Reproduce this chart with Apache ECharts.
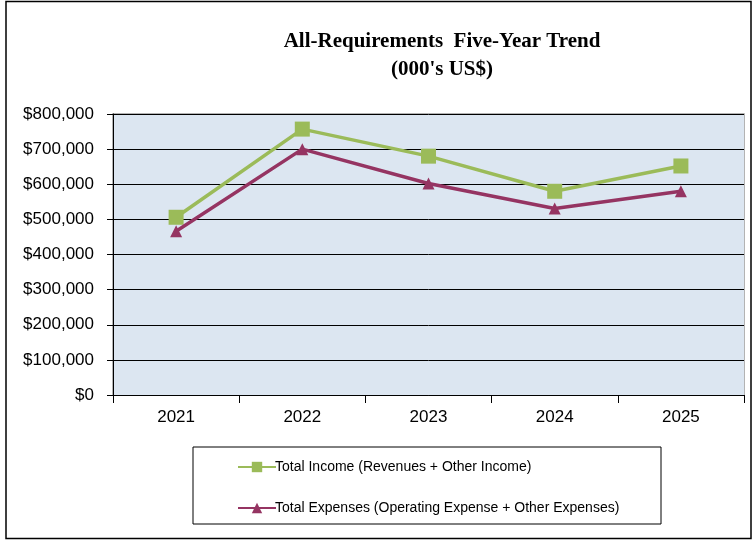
<!DOCTYPE html>
<html>
<head>
<meta charset="utf-8">
<script src="https://cdn.jsdelivr.net/npm/echarts@6/dist/echarts.min.js"></script>
<style>
  html, body { margin: 0; padding: 0; background: #ffffff; }
  #chart { width: 753px; height: 541px; }
</style>
</head>
<body>
<div id="chart"></div>
<script>
// Fiscal years on the category axis
const years = ['2021', '2022', '2023', '2024', '2025'];

// Thousands of US dollars
const totalIncome = [506000, 757000, 680000, 580000, 652000];
const totalExpenses = [466000, 700000, 602000, 531000, 580000];

const incomeName = 'Total Income (Revenues + Other Income)';
const expensesName = 'Total Expenses (Operating Expense + Other Expenses)';

const chart = echarts.init(document.getElementById('chart'), null, { renderer: 'canvas' });

const money = v => '$' + v.toLocaleString('en-US');

// Plot area box in pixels
const gridLeft = 113, gridRight = 9, gridTop = 114, gridBottom = 146;

chart.setOption({
  animation: false,
  backgroundColor: '#ffffff',
  textStyle: { fontFamily: 'Liberation Sans, Arial, sans-serif' },
  graphic: [
    {
      type: 'rect',
      shape: { x: 6, y: 1.5, width: 745, height: 537 },
      style: { fill: 'none', stroke: '#000000', lineWidth: 1.5 },
      silent: true
    },
    {
      type: 'rect',
      shape: { x: 193, y: 447, width: 468, height: 77 },
      style: { fill: '#ffffff', stroke: '#000000', lineWidth: 1 },
      silent: true,
      z: -1
    },
    {
      type: 'rect',
      shape: {
        x: gridLeft, y: gridTop,
        width: 753 - gridRight - gridLeft,
        height: 541 - gridBottom - gridTop
      },
      style: { fill: 'none', stroke: '#9a9a9a', lineWidth: 1.5 },
      silent: true,
      z: 0
    }
  ],
  title: {
    text: 'All-Requirements  Five-Year Trend\n(000\'s US$)',
    left: 437,
    textAlign: 'center',
    top: 23,
    textStyle: {
      fontFamily: 'Liberation Serif, Times New Roman, serif',
      fontWeight: 'bold',
      fontSize: 21,
      lineHeight: 28,
      color: '#000000'
    }
  },
  legend: {
    orient: 'vertical',
    left: 232,
    top: 455,
    itemGap: 27,
    itemWidth: 38,
    itemHeight: 13,
    textStyle: { fontSize: 14, color: '#000000', padding: [0, 0, 0, -6] },
    data: [incomeName, expensesName]
  },
  grid: { left: gridLeft, right: gridRight, top: gridTop, bottom: gridBottom, containLabel: false },
  xAxis: {
    type: 'category',
    data: years,
    boundaryGap: true,
    axisLine: { lineStyle: { color: '#000000', width: 1 } },
    axisTick: { show: true, length: 8, lineStyle: { color: '#000000' } },
    axisLabel: { fontSize: 17, color: '#000000', margin: 14 },
    splitLine: { show: false }
  },
  yAxis: {
    type: 'value',
    min: 0,
    max: 800000,
    interval: 100000,
    axisLine: { show: true, lineStyle: { color: '#000000', width: 1 } },
    axisTick: { show: true, length: 6, lineStyle: { color: '#000000' } },
    axisLabel: { fontSize: 17, color: '#000000', margin: 19, formatter: money },
    splitLine: { show: true, lineStyle: { color: '#000000', width: 1 } },
    splitArea: { show: true, areaStyle: { color: ['#dce6f1', '#dce6f1'] } }
  },
  series: [
    {
      name: incomeName,
      type: 'line',
      data: totalIncome,
      symbol: 'rect',
      symbolSize: 15,
      lineStyle: { color: '#9bbb59', width: 3.5 },
      itemStyle: { color: '#9bbb59' },
      z: 3
    },
    {
      name: expensesName,
      type: 'line',
      data: totalExpenses,
      symbol: 'triangle',
      symbolSize: 12,
      lineStyle: { color: '#953462', width: 3.5 },
      itemStyle: { color: '#953462' },
      z: 4
    }
  ]
});
</script>
</body>
</html>
